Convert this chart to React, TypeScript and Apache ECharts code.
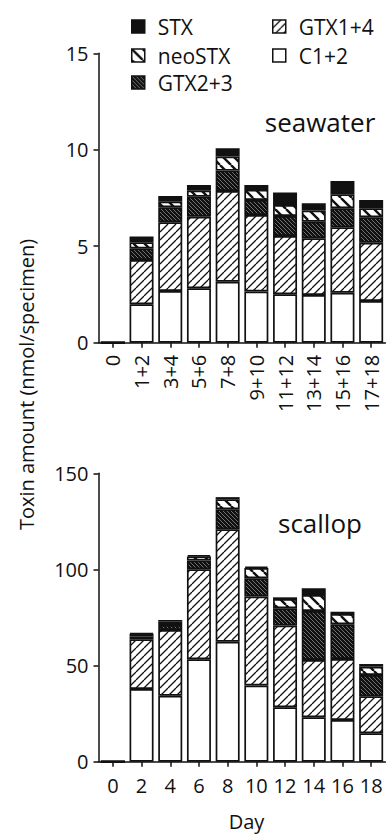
import React, { useEffect, useRef } from "react";
import * as echarts from "echarts";

const seaCategories = ["0", "1+2", "3+4", "5+6", "7+8", "9+10", "11+12", "13+14", "15+16", "17+18"];
const scallopCategories = ["0", "2", "4", "6", "8", "10", "12", "14", "16", "18"];

const seriesNames = ["C1+2", "GTX1+4", "GTX2+3", "neoSTX", "STX"];

// seawater (nmol/specimen), stacked bottom -> top
const seaC12 = [0, 1.99, 2.68, 2.82, 3.16, 2.65, 2.51, 2.47, 2.59, 2.16];
const seaGTX14 = [0, 2.3, 3.56, 3.71, 4.7, 3.97, 3.02, 2.94, 3.39, 3.02];
const seaGTX23 = [0, 0.6, 0.78, 1.04, 1.06, 0.78, 1.04, 0.86, 0.99, 1.32];
const seaNeoSTX = [0, 0.31, 0.29, 0.31, 0.73, 0.52, 0.57, 0.58, 0.72, 0.47];
const seaSTX = [0, 0.3, 0.29, 0.3, 0.43, 0.26, 0.64, 0.38, 0.69, 0.43];

// scallop (nmol/specimen)
const scC12 = [0, 37.8, 34.3, 53.3, 62.4, 39.6, 28.3, 23.1, 21.7, 14.8];
const scGTX14 = [0, 25.9, 34.2, 46.8, 58.5, 46.3, 42.5, 29.8, 31.7, 19.2];
const scGTX23 = [0, 1.5, 2.6, 4.5, 10.4, 9.5, 9.0, 25.5, 18.1, 11.1];
const scNeoSTX = [0, 1.2, 1.7, 2.1, 5.2, 5.3, 4.8, 8.3, 5.3, 4.3];
const scSTX = [0, 0.4, 0.9, 0.8, 1.1, 0.8, 0.9, 3.5, 1.2, 1.4];

const seaTicks = { min: 0, max: 15, interval: 5 };
const scTicks = { min: 0, max: 150, interval: 50 };

const FONT = "Open Sans";
const INK = "#111";

function hatch(bg: string, fg: string, size: number, lw: number, dir: "/" | "\\") {
  const c = document.createElement("canvas");
  c.width = size;
  c.height = size;
  const ctx = c.getContext("2d")!;
  ctx.fillStyle = bg;
  ctx.fillRect(0, 0, size, size);
  ctx.strokeStyle = fg;
  ctx.lineWidth = lw;
  ctx.beginPath();
  for (let k = -1; k <= 1; k++) {
    if (dir === "/") {
      ctx.moveTo(k * size, size);
      ctx.lineTo(k * size + size, 0);
    } else {
      ctx.moveTo(k * size, 0);
      ctx.lineTo(k * size + size, size);
    }
  }
  ctx.stroke();
  return { image: c, repeat: "repeat" } as any;
}

export default function App() {
  const ref = useRef<HTMLDivElement>(null);
  useEffect(() => {
    if (!ref.current) return;
    const chart = echarts.init(ref.current, null, { renderer: "svg" });

    const fills: Record<string, any> = {
      "C1+2": "#fff",
      "GTX1+4": hatch("#fff", "#111", 8, 1.3, "/"),
      "GTX2+3": hatch("#111", "#8a8a8a", 4, 0.8, "\\"),
      neoSTX: hatch("#fff", "#111", 11, 2.4, "\\"),
      STX: "#111",
    };

    const seaData = [seaC12, seaGTX14, seaGTX23, seaNeoSTX, seaSTX];
    const scData = [scC12, scGTX14, scGTX23, scNeoSTX, scSTX];

    const mkSeries = (data: number[][], idx: number) =>
      seriesNames.map((name, i) => ({
        name,
        type: "bar",
        stack: "s" + idx,
        xAxisIndex: idx,
        yAxisIndex: idx,
        barWidth: 24,
        data: data[i],
        itemStyle: { color: fills[name], borderColor: "#111", borderWidth: 1.7 },
        emphasis: { disabled: true },
      }));

    const axisLine = { show: true, lineStyle: { color: INK, width: 1.5 } };
    const labelStyle = { fontFamily: FONT, fontSize: 20, color: INK };

    const xAxis = (cats: string[], gi: number, rotate: number, margin: number) => ({
      type: "category",
      gridIndex: gi,
      data: cats,
      axisLine,
      axisTick: { show: true, alignWithLabel: true, length: 5, lineStyle: { color: INK, width: 1.5 } },
      axisLabel: { ...labelStyle, rotate, margin, interval: 0 },
    });
    const yAxis = (gi: number, t: any) => ({
      type: "value",
      gridIndex: gi,
      min: t.min,
      max: t.max,
      interval: t.interval,
      axisLine,
      axisTick: { show: true, length: 5, lineStyle: { color: INK, width: 1.5 } },
      axisLabel: { ...labelStyle, margin: 10 },
      splitLine: { show: false },
    });

    const legendItem = (name: string, left: number, top: number) => ({
      data: [name],
      left,
      top,
      icon: "rect",
      itemWidth: 13,
      itemHeight: 13,
      selectedMode: false,
      itemStyle: { borderColor: "#111", borderWidth: 1.5 },
      textStyle: { fontFamily: FONT, fontSize: 21, color: INK, padding: [0, 0, 0, 8] },
    });

    chart.setOption({
      animation: false,
      backgroundColor: "#fff",
      grid: [
        { left: 98.5, top: 53.3, width: 287, height: 289.4 },
        { left: 98.5, top: 473.3, width: 287, height: 288.4 },
      ],
      legend: [
        legendItem("STX", 126, 11),
        legendItem("neoSTX", 126, 40),
        legendItem("GTX2+3", 126, 67),
        legendItem("GTX1+4", 267, 11),
        legendItem("C1+2", 267, 40),
      ],
      xAxis: [xAxis(seaCategories, 0, 90, 12), xAxis(scallopCategories, 1, 0, 14)],
      yAxis: [yAxis(0, seaTicks), yAxis(1, scTicks)],
      series: [...mkSeries(seaData, 0), ...mkSeries(scData, 1)],
      graphic: [
        {
          type: "text",
          x: 320,
          y: 122,
          style: { text: "seawater", fontFamily: FONT, fontSize: 26, fill: INK, align: "center", verticalAlign: "middle" },
        },
        {
          type: "text",
          x: 320,
          y: 523,
          style: { text: "scallop", fontFamily: FONT, fontSize: 26, fill: INK, align: "center", verticalAlign: "middle" },
        },
        {
          type: "text",
          x: 246.5,
          y: 821,
          style: { text: "Day", fontFamily: FONT, fontSize: 20, fill: INK, align: "center", verticalAlign: "middle" },
        },
        {
          type: "text",
          x: 26,
          y: 384.5,
          rotation: Math.PI / 2,
          style: {
            text: "Toxin amount (nmol/specimen)",
            fontFamily: FONT,
            fontSize: 20,
            fill: INK,
            align: "center",
            verticalAlign: "middle",
          },
        },
      ],
    });
    return () => chart.dispose();
  }, []);
  return <div ref={ref} style={{ position: "fixed", left: 0, top: 0, width: 386, height: 835 }} />;
}
